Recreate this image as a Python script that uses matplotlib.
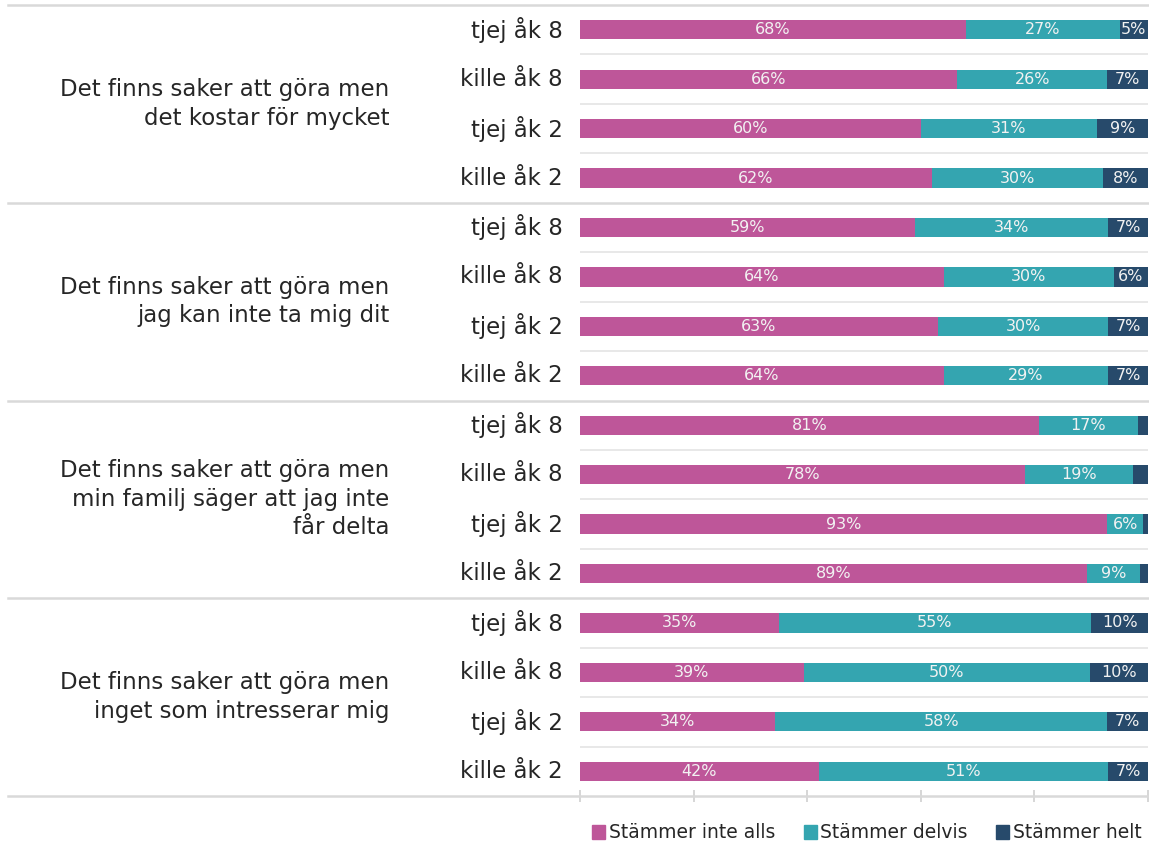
import matplotlib.pyplot as plt
from matplotlib.lines import Line2D
from matplotlib.patches import Patch
import numpy as np

plt.rcParams['font.family'] = ['DejaVu Sans']

groups = ["Det finns saker att göra men\ndet kostar för mycket",
          "Det finns saker att göra men\njag kan inte ta mig dit",
          "Det finns saker att göra men\nmin familj säger att jag inte\nfår delta",
          "Det finns saker att göra men\ninget som intresserar mig"]
rows = ["tjej åk 8", "kille åk 8", "tjej åk 2", "kille åk 2"] * 4

inte_alls = [68, 66.4, 60, 62, 59, 64, 63, 64, 80.8, 78.4, 92.8, 89.2, 35, 39.4, 34.4, 42]
delvis = [27, 26.4, 31, 30, 34, 30, 30, 29, 17.4, 19.0, 6.4, 9.4, 55, 50.4, 58.4, 51]
helt = [5, 7.2, 9, 8, 7, 6, 7, 7, 1.8, 2.6, 0.8, 1.4, 10, 10.2, 7.2, 7]

series = ["Stämmer inte alls", "Stämmer delvis", "Stämmer helt"]
colors = ["#BE5699", "#34A5B0", "#274A6B"]

W, H = 1149, 844
fig = plt.figure(figsize=(W / 100, H / 100), dpi=100)
ax_left, ax_right = 580 / W, 1148 / W
ax_top, ax_bot = 1 - 5 / H, 1 - 796 / H
ax = fig.add_axes([ax_left, ax_bot, ax_right - ax_left, ax_top - ax_bot])

y = np.arange(len(rows))
left = np.zeros(len(rows))
for vals, col in zip([inte_alls, delvis, helt], colors):
    vals = np.array(vals, dtype=float)
    ax.barh(y, vals, left=left, height=0.39, color=col, zorder=3)
    for yi, l, v in zip(y, left, vals):
        if v >= 4:
            ax.text(l + v / 2, yi, f"{round(v)}%", ha='center', va='center',
                    color='#f2f2f2', fontsize=11.5, zorder=4)
    left += vals

ax.set_xlim(0, 100)
ax.set_ylim(len(rows) - 0.5, -0.5)
ax.set_yticks([])
ax.set_xticks([0, 20, 40, 60, 80, 100])
ax.tick_params(axis='x', length=9, direction='inout', color='#d0d0d0', labelbottom=False, width=1.2)
for s in ax.spines.values():
    s.set_visible(False)

# light lines between rows
for b in np.arange(0.5, len(rows) - 0.5, 1):
    if (b + 0.5) % 4 != 0:
        ax.axhline(b, color='#e6e6e6', lw=1.3, zorder=1)

# row labels
for yi, r in zip(y, rows):
    ax.text(-3.0, yi, r, ha='right', va='center', fontsize=16.5, color='#262626',
            clip_on=False)

# group separators and group labels
row_h = (796 - 5) / 16
for g in range(5):
    ypx = 5 + g * 4 * row_h
    fig.add_artist(Line2D([8 / W, 1148 / W], [1 - ypx / H, 1 - ypx / H],
                          color='#d9d9d9', lw=1.8))
for g, lab in enumerate(groups):
    ax.text(-33.5, g * 4 + 1.5, lab, ha='right', va='center', fontsize=16.5,
            color='#262626', linespacing=1.3, clip_on=False)

handles = [Patch(color=c) for c in colors]
fig.legend(handles, series, loc='center', bbox_to_anchor=(867 / W, 1 - 833 / H), ncol=3,
           frameon=False, fontsize=13.5, handlelength=0.7, handleheight=0.7,
           handletextpad=0.2, columnspacing=1.5, labelcolor='#262626')

fig.savefig("out.png", dpi=100)
